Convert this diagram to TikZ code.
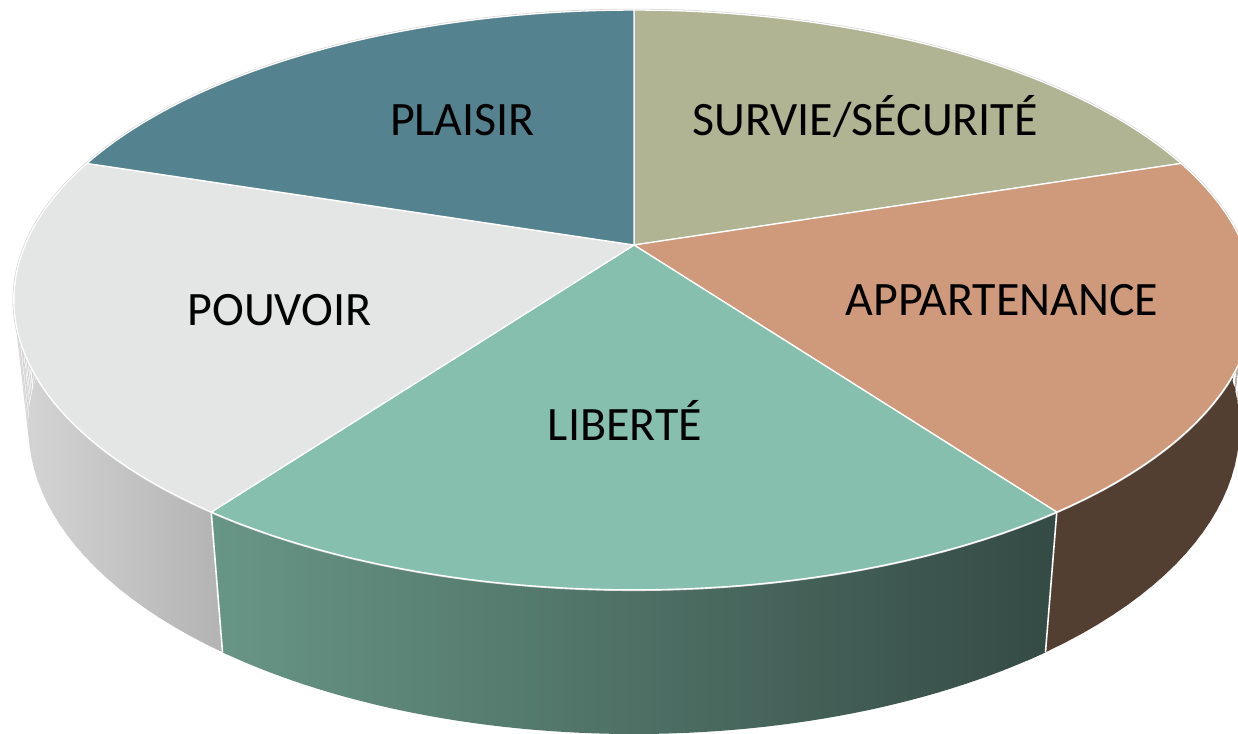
\documentclass[tikz,border=0pt]{standalone}
\usepackage{fontspec}
\setmainfont{Carlito}
\definecolor{plaisir}{HTML}{55828F}
\definecolor{survie}{HTML}{B0B493}
\definecolor{appart}{HTML}{CF9A7B}
\definecolor{liberte}{HTML}{86BFAD}
\definecolor{pouvoir}{HTML}{E4E6E5}
\definecolor{libL}{HTML}{689686}
\definecolor{libM}{HTML}{4F6E65}
\definecolor{libR}{HTML}{344A44}
\definecolor{appSide}{HTML}{533F31}
\definecolor{pouL}{HTML}{D6D6D6}
\definecolor{pouR}{HTML}{B2B2B2}
\begin{document}
\begin{tikzpicture}[x=0.02cm,y=-0.02cm,
  declare function={
    tu(\a)=634+2853*cos(\a)/(4.685+0.888*sin(\a));
    tv(\a)=245-1309.5*sin(\a)/(4.685+0.888*sin(\a));
    bu(\a)=634+2853*cos(\a)/(4.7938+0.888*sin(\a));
    bv(\a)=245+2853*(0.2105-0.459*sin(\a))/(4.7938+0.888*sin(\a));
  },
  slice/.style={draw=white, line width=0.75pt, line join=round},
  edgeline/.style={draw=white, line width=0.9pt},
  lab/.style={anchor=base, inner sep=0pt, font=\fontsize{27.3}{31}\selectfont, text=black}]
\useasboundingbox (0,0) rectangle (1238,734);
\fill[white] (0,0) rectangle (1238,734);
\clip (0,0) rectangle (1238,734);
\coordinate (C) at (634,245);
% side faces
\path[left color=pouL, right color=pouR]
  foreach \t in {-186,-184,...,-128} {
    ({tu(\t)},{tv(\t)}) -- ({tu(\t+2.5)},{tv(\t+2.5)}) -- ({bu(\t+2.5)},{bv(\t+2.5)}) -- ({bu(\t)},{bv(\t)}) -- cycle
  };
\path[fill=appSide]
  foreach \t in {-56,-54,...,16} {
    ({tu(\t)},{tv(\t)}) -- ({tu(\t+2.5)},{tv(\t+2.5)}) -- ({bu(\t+2.5)},{bv(\t+2.5)}) -- ({bu(\t)},{bv(\t)}) -- cycle
  };
\path[left color=libL, middle color=libM, right color=libR]
  plot[variable=\t, domain=-126:-54, samples=60] ({tu(\t)},{tv(\t)})
  -- plot[variable=\t, domain=-54:-126, samples=60] ({bu(\t)},{bv(\t)}) -- cycle;
\coordinate (tA) at ({tu(-126)},{tv(-126)});
\coordinate (bA) at ({bu(-126)},{bv(-126)});
\coordinate (tB) at ({tu(-54)},{tv(-54)});
\coordinate (bB) at ({bu(-54)},{bv(-54)});
\draw[edgeline] (tA) -- (bA);
\draw[edgeline] (tB) -- (bB);
% faint outer outline
\draw[color=black!18, line width=1.4pt] plot[variable=\t, domain=0:360, samples=200] ({tu(\t)},{tv(\t)}) -- cycle;
% top faces
\path[fill=survie, slice] (C) -- plot[variable=\t, domain=90:18, samples=50] ({tu(\t)},{tv(\t)}) -- cycle;
\path[fill=appart, slice] (C) -- plot[variable=\t, domain=18:-54, samples=50] ({tu(\t)},{tv(\t)}) -- cycle;
\path[fill=liberte, slice] (C) -- plot[variable=\t, domain=-54:-126, samples=50] ({tu(\t)},{tv(\t)}) -- cycle;
\path[fill=pouvoir, slice] (C) -- plot[variable=\t, domain=-126:-198, samples=50] ({tu(\t)},{tv(\t)}) -- cycle;
\path[fill=plaisir, slice] (C) -- plot[variable=\t, domain=162:90, samples=50] ({tu(\t)},{tv(\t)}) -- cycle;
% labels
\node[lab] (lplaisir) at (462.5,135) {PLAISIR};
\node[lab] (lsurvie) at (865,135) {SURVIE/SÉCURITÉ};
\node[lab] (lappart) at (1002,315) {APPARTENANCE};
\node[lab] (lpouvoir) at (279.5,325) {POUVOIR};
\node[lab] (lliberte) at (625,440) {LIBERTÉ};
\end{tikzpicture}
\end{document}
